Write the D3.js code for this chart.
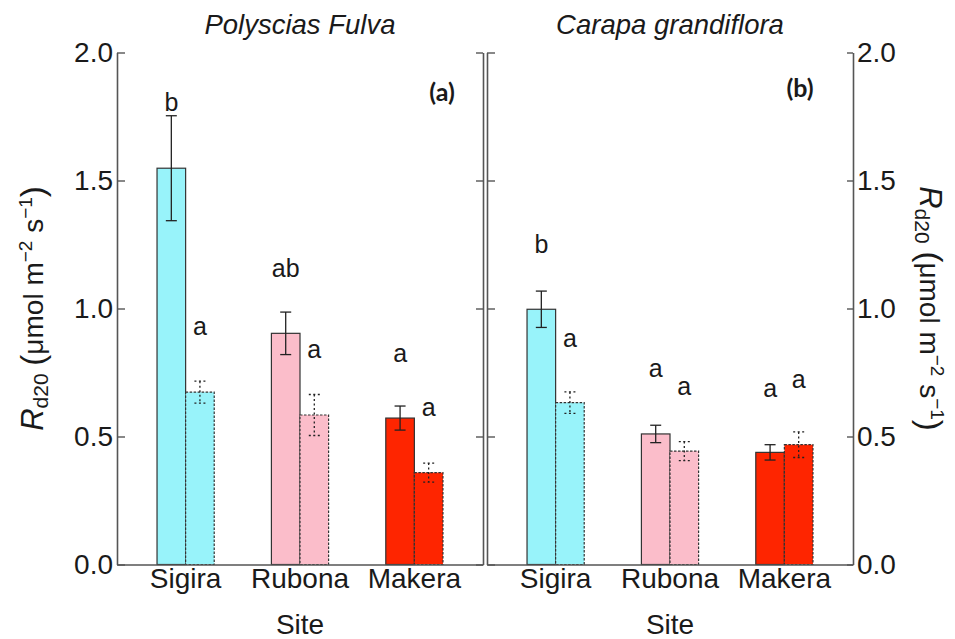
<!DOCTYPE html>
<html>
<head>
<meta charset="utf-8">
<script src="https://cdn.jsdelivr.net/npm/d3@7"></script>
<style>
  html, body { margin: 0; padding: 0; background: #fff; }
  svg { display: block; }
  text { font-family: "Liberation Sans", Arial, sans-serif; fill: #1a1a1a; }
</style>
</head>
<body>
<svg id="chart" width="955" height="639"></svg>
<script>
// Sites on the x axis
const sites = ["Sigira", "Rubona", "Makera"];
const speciesNames = ["Polyscias Fulva", "Carapa grandiflora"];
const panelTags = ["(a)", "(b)"];
const yTicks = [0, 0.5, 1.0, 1.5, 2.0];

// Polyscias fulva: solid-outline series and dashed-outline series (mean ± SE)
const pfSolidMean = [1.548, 0.903, 0.572];
const pfSolidSE   = [0.205, 0.083, 0.047];
const pfDashMean  = [0.673, 0.584, 0.359];
const pfDashSE    = [0.043, 0.080, 0.037];
const pfSolidLetters = ["b", "ab", "a"];
const pfDashLetters  = ["a", "a", "a"];
const pfSolidLetterAt = [1.770, 1.122, 0.792];
const pfDashLetterAt  = [0.896, 0.805, 0.580];

// Carapa grandiflora
const cgSolidMean = [0.997, 0.510, 0.438];
const cgSolidSE   = [0.071, 0.034, 0.030];
const cgDashMean  = [0.632, 0.443, 0.468];
const cgDashSE    = [0.042, 0.037, 0.050];
const cgSolidLetters = ["b", "a", "a"];
const cgDashLetters  = ["a", "a", "a"];
const cgSolidLetterAt = [1.216, 0.731, 0.655];
const cgDashLetterAt  = [0.851, 0.662, 0.688];

const siteColors = ["#98f3fa", "#fbbdca", "#fe2500"];

const panelData = [
  { solid: pfSolidMean, solidSE: pfSolidSE, dash: pfDashMean, dashSE: pfDashSE,
    solidLetters: pfSolidLetters, dashLetters: pfDashLetters,
    solidAt: pfSolidLetterAt, dashAt: pfDashLetterAt },
  { solid: cgSolidMean, solidSE: cgSolidSE, dash: cgDashMean, dashSE: cgDashSE,
    solidLetters: cgSolidLetters, dashLetters: cgDashLetters,
    solidAt: cgSolidLetterAt, dashAt: cgDashLetterAt }
];

const svg = d3.select("#chart");
const axisColor = "#555";
const plotTop = 52.5, plotBottom = 564.5;
const panelRanges = [[117, 483], [487, 853]];

const y = d3.scaleLinear().domain([0, 2]).range([plotBottom, plotTop]);

function styleAxis(g) {
  g.selectAll("path.domain").attr("stroke", axisColor).attr("stroke-width", 1.6);
  g.selectAll(".tick line").attr("stroke", axisColor).attr("stroke-width", 1.4);
  g.selectAll(".tick text").attr("font-size", 28).attr("fill", "#1a1a1a");
}

panelData.forEach((pd, pi) => {
  const [x0, x1] = panelRanges[pi];
  const x = d3.scaleBand().domain(sites).range([x0, x1])
    .paddingInner(0.5).paddingOuter(0.35);
  const xs = d3.scaleBand().domain(["solid", "dash"]).range([0, x.bandwidth()]);

  const g = svg.append("g");

  const rows = sites.map((s, i) => ({
    site: s, i,
    items: [
      { key: "solid", v: pd.solid[i], se: pd.solidSE[i], letter: pd.solidLetters[i], at: pd.solidAt[i] },
      { key: "dash",  v: pd.dash[i],  se: pd.dashSE[i],  letter: pd.dashLetters[i],  at: pd.dashAt[i] }
    ]
  }));

  rows.forEach(r => {
    const gg = g.append("g").attr("transform", `translate(${x(r.site)},0)`);
    r.items.forEach(it => {
      const bx = xs(it.key), bw = xs.bandwidth(), cx = bx + bw / 2;
      gg.append("rect")
        .attr("x", bx).attr("y", y(it.v))
        .attr("width", bw).attr("height", y(0) - y(it.v))
        .attr("fill", siteColors[r.i])
        .attr("stroke", "#333").attr("stroke-width", 1.2)
        .attr("stroke-dasharray", it.key === "dash" ? "2.5,1.5" : null);

      const dash = it.key === "dash" ? "2,2.5" : null;
      const hi = y(it.v + it.se), lo = y(it.v - it.se), cap = 5.5;
      gg.append("line").attr("x1", cx).attr("x2", cx).attr("y1", hi).attr("y2", lo)
        .attr("stroke", "#222").attr("stroke-width", 1.3).attr("stroke-dasharray", dash);
      [hi, lo].forEach(yy => {
        gg.append("line").attr("x1", cx - cap).attr("x2", cx + cap).attr("y1", yy).attr("y2", yy)
          .attr("stroke", "#222").attr("stroke-width", 1.3).attr("stroke-dasharray", dash);
      });

      gg.append("text")
        .attr("x", cx).attr("y", y(it.at))
        .attr("text-anchor", "middle").attr("font-size", 25)
        .text(it.letter);
    });
  });

  // x axis
  const xa = g.append("g").attr("transform", `translate(0,${plotBottom})`)
    .call(d3.axisBottom(x).tickSize(0).tickSizeOuter(0).tickPadding(4));
  styleAxis(xa);

  // axis title
  g.append("text")
    .attr("x", (x0 + x1) / 2).attr("y", 634)
    .attr("text-anchor", "middle").attr("font-size", 28)
    .text("Site");

  // species title
  g.append("text")
    .attr("x", (x0 + x1) / 2).attr("y", 34)
    .attr("text-anchor", "middle").attr("font-size", 27.5)
    .attr("font-style", "italic")
    .text(speciesNames[pi]);

  // panel tag
  g.append("text")
    .attr("x", pi === 0 ? 442 : 800).attr("y", pi === 0 ? 101 : 97)
    .attr("text-anchor", "middle").attr("font-size", 25).attr("font-weight", "bold")
    .style("font-family", "Lato, 'Open Sans', sans-serif")
    .text(panelTags[pi]);
});

// y axes
const fmt = d3.format(".1f");
const leftA = svg.append("g").attr("transform", `translate(${panelRanges[0][0]},0)`)
  .call(d3.axisLeft(y).tickValues(yTicks).tickFormat(fmt).tickSizeInner(-8).tickSizeOuter(0).tickPadding(4));
styleAxis(leftA);

const midA = svg.append("g").attr("transform", `translate(${panelRanges[0][1]},0)`)
  .call(d3.axisRight(y).tickValues(yTicks).tickFormat("").tickSizeInner(-7).tickSizeOuter(0));
styleAxis(midA);

const midB = svg.append("g").attr("transform", `translate(${panelRanges[1][0]},0)`)
  .call(d3.axisLeft(y).tickValues(yTicks).tickFormat("").tickSizeInner(-8).tickSizeOuter(0));
styleAxis(midB);

const rightB = svg.append("g").attr("transform", `translate(${panelRanges[1][1]},0)`)
  .call(d3.axisRight(y).tickValues(yTicks).tickFormat(fmt).tickSizeInner(-6).tickSizeOuter(0).tickPadding(4));
styleAxis(rightB);

// y axis titles: R_d20 (μmol m^-2 s^-1)
function yTitle(xPos, angle) {
  const midY = (plotTop + plotBottom) / 2;
  const t = svg.append("text")
    .attr("transform", `translate(${xPos},${midY}) rotate(${angle})`)
    .attr("text-anchor", "middle").attr("font-size", 28);
  t.append("tspan").attr("font-style", "italic").attr("font-size", 31).text("R");
  t.append("tspan").attr("font-size", 21).attr("dy", 5).text("d20");
  t.append("tspan").attr("dy", -5).text(" ");
  t.append("tspan").attr("font-size", 33).attr("dy", 1).text("(");
  t.append("tspan").attr("dy", -1).text("μmol m");
  t.append("tspan").attr("font-size", 19).attr("dy", -11).text("−2");
  t.append("tspan").attr("dy", 11).text(" s");
  t.append("tspan").attr("font-size", 19).attr("dy", -11).text("−1");
  t.append("tspan").attr("font-size", 33).attr("dy", 12).text(")");
}
yTitle(43, -90);
yTitle(920, 90);
</script>
</body>
</html>
